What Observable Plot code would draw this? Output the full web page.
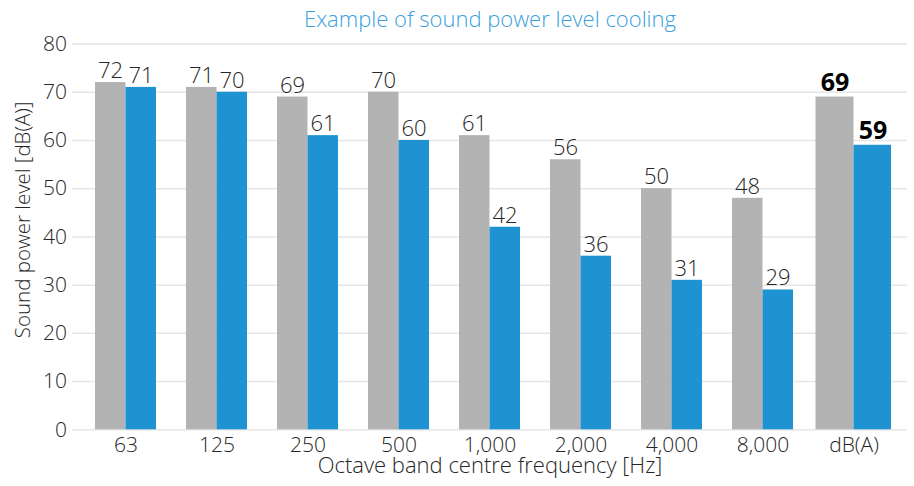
<!DOCTYPE html>
<html>
<head>
<meta charset="utf-8">
<script src="https://cdn.jsdelivr.net/npm/d3@7"></script>
<script src="https://cdn.jsdelivr.net/npm/@observablehq/plot@0.6"></script>
<style>
  html, body { margin: 0; padding: 0; background: #fff; }
  #chart svg { display: block; }
</style>
</head>
<body>
<div id="chart"></div>
<script>
const titleText = "Example of sound power level cooling";
const xLabel = "Octave band centre frequency [Hz]";
const yLabel = "Sound power level [dB(A)]";
const categories = ["63", "125", "250", "500", "1,000", "2,000", "4,000", "8,000", "dB(A)"];
const grayValues = [72, 71, 69, 70, 61, 56, 50, 48, 69];
const blueValues = [71, 70, 61, 60, 42, 36, 31, 29, 59];
const yTicks = [0, 10, 20, 30, 40, 50, 60, 70, 80];
const totalCategory = "dB(A)";

const rows = categories.map((c, i) => ({category: c, gray: grayValues[i], blue: blueValues[i]}));
const bands = rows.filter(d => d.category !== totalCategory);
const total = rows.filter(d => d.category === totalCategory);

const FONT = "'Open Sans', 'Noto Sans', sans-serif";
const TXT = "#262626";
const GRAY = "#b3b3b4";
const BLUE = "#1f93d1";

const chart = Plot.plot({
  width: 914,
  height: 486,
  marginTop: 43.5,
  marginBottom: 56.7,
  marginLeft: 72,
  marginRight: 7,
  style: {fontFamily: FONT, fontSize: "21px", fontWeight: 300, color: TXT, background: "#fff"},
  x: {type: "band", domain: categories, paddingInner: 0, paddingOuter: 0.08, align: 0.5, axis: null},
  y: {domain: [0, 80], axis: null},
  marks: [
    Plot.ruleY(yTicks, {stroke: "#e6e6e6", strokeWidth: 1.5}),
    Plot.barY(bands, {x: "category", y: "gray", fill: GRAY, insetLeft: 15, insetRight: 45.5}),
    Plot.barY(bands, {x: "category", y: "blue", fill: BLUE, insetLeft: 45.5, insetRight: 15}),
    Plot.barY(total, {x: "category", y: "gray", fill: GRAY, insetLeft: 7.5, insetRight: 45.5}),
    Plot.barY(total, {x: "category", y: "blue", fill: BLUE, insetLeft: 45.5, insetRight: 8}),
    Plot.text(bands, {x: "category", y: "gray", text: d => String(d.gray), dx: -15.5, dy: -4.5, lineAnchor: "bottom", fontSize: 22, fill: TXT}),
    Plot.text(bands, {x: "category", y: "blue", text: d => String(d.blue), dx: 15, dy: -4.5, lineAnchor: "bottom", fontSize: 22, fill: TXT}),
    Plot.text(total, {x: "category", y: "gray", text: d => String(d.gray), dx: -19, dy: -6, lineAnchor: "bottom", fontSize: 25, fontWeight: "bold", fill: "#000"}),
    Plot.text(total, {x: "category", y: "blue", text: d => String(d.blue), dx: 19, dy: -6, lineAnchor: "bottom", fontSize: 25, fontWeight: "bold", fill: "#000"}),
    // y tick labels
    Plot.text(yTicks, {y: d => d, text: d => String(d), frameAnchor: "left", textAnchor: "end", dx: -5.5, fontSize: 21, fill: TXT}),
    // x tick labels
    Plot.text(categories, {x: d => d, text: d => d, frameAnchor: "bottom", lineAnchor: "top", dy: 7.5, fontSize: 21, fill: TXT}),
    // axis titles
    Plot.text([xLabel], {frameAnchor: "bottom", lineAnchor: "bottom", dy: 43.4, fontSize: 22, fill: TXT}),
    Plot.text([yLabel], {frameAnchor: "left", textAnchor: "middle", rotate: -90, lineAnchor: "bottom", dx: -43, dy: -17, fontSize: 20.5, fill: TXT}),
    // title
    Plot.text([titleText], {frameAnchor: "top", lineAnchor: "bottom", dy: -17, fontSize: 22, fill: "#3a9fdc"})
  ]
});
document.getElementById("chart").appendChild(chart);
</script>
</body>
</html>
